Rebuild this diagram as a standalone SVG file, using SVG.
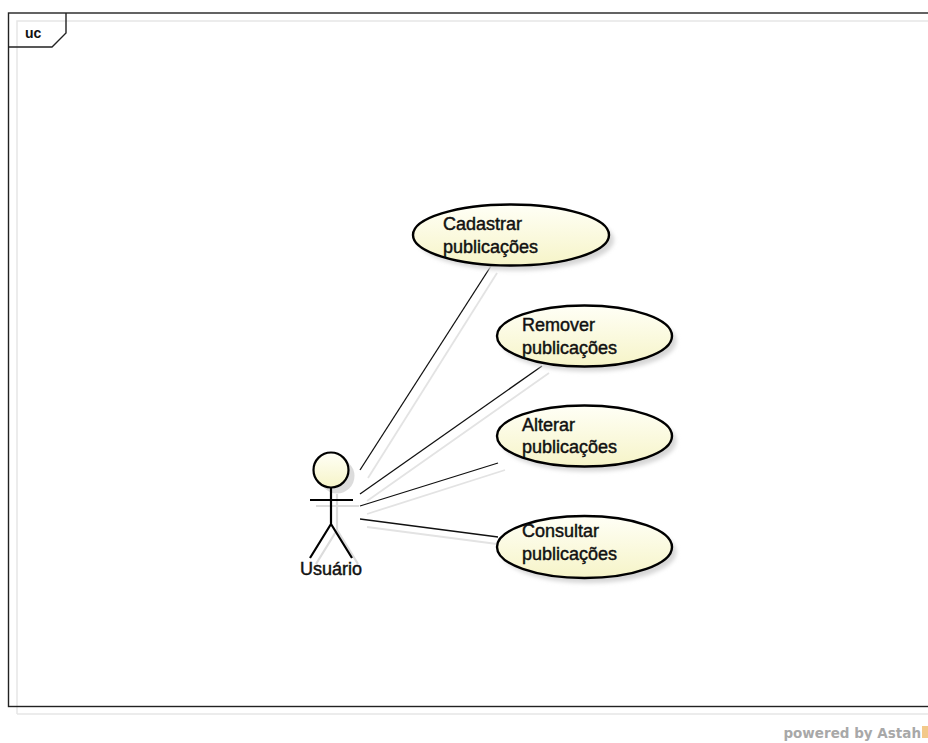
<svg xmlns="http://www.w3.org/2000/svg" width="928" height="743" viewBox="0 0 928 743">
<style>
.frame{fill:none;stroke:#222;stroke-width:1.4}
.fshadow{fill:none;stroke:#e6e6e6;stroke-width:1.5}
.uc{fill:url(#ucfill);stroke:#000;stroke-width:2.4}
.ucsh{fill:#d6d6d6;filter:url(#blur)}
.lbl{font-family:"Liberation Sans",Arial,sans-serif;font-size:18px;fill:#111;stroke:#111;stroke-width:0.45}
.conn{stroke:#111;stroke-width:1.3;fill:none}
.connsh{stroke:#e3e3e3;stroke-width:1.8;fill:none}
.act{stroke:#000;stroke-width:2.2;fill:none}
.actsh{stroke:#dcdcdc;stroke-width:2.2;fill:none}
</style>
<defs>
<linearGradient id="ucfill" x1="0" y1="0" x2="0" y2="1">
<stop offset="0" stop-color="#fffff6"/>
<stop offset="1" stop-color="#f6f4c8"/>
</linearGradient>
<filter id="blur" x="-20%" y="-20%" width="140%" height="140%"><feGaussianBlur stdDeviation="2"/></filter>
</defs>
<rect width="928" height="743" fill="#fff"/>
<g id="frame">
<path class="fshadow" d="M17 714 V21 H940 M17 714 H940"/>
<rect class="frame" x="8.5" y="13" width="940" height="693.5"/>
<path class="frame" d="M8.5 47 H52 L66 33 V13"/>
<text x="25" y="38" style="font-family:'Liberation Sans',Arial,sans-serif;font-size:14px;font-weight:bold;fill:#111">uc</text>
</g>
<g id="connectors">
<line class="connsh" x1="368" y1="478" x2="497" y2="273"/>
<line class="conn" x1="360" y1="470" x2="491" y2="266"/>
<line class="connsh" x1="367" y1="501" x2="549" y2="373"/>
<line class="conn" x1="360" y1="494" x2="542" y2="366"/>
<line class="connsh" x1="367" y1="514" x2="505" y2="470"/>
<line class="conn" x1="360" y1="506" x2="498" y2="463"/>
<line class="connsh" x1="367" y1="527" x2="497" y2="544"/>
<line class="conn" x1="360" y1="519" x2="498" y2="537"/>
</g>
<g id="actor">
<g transform="translate(6,6)">
<circle cx="331" cy="470" r="17.5" fill="#dcdcdc" stroke="none"/>
<path class="actsh" d="M331 488 V524 M310 500 H353 M331 524 L310 558 M331 524 L352 558"/>
</g>
<circle cx="331" cy="470" r="17.5" fill="url(#ucfill)" stroke="#000" stroke-width="2.2"/>
<path class="act" d="M331 488 V524 M310 500 H353 M331 524 L310 558 M331 524 L352 558"/>
<text class="lbl" x="331" y="575" text-anchor="middle">Usuário</text>
</g>
<g id="uc1">
<ellipse class="ucsh" cx="516" cy="240" rx="98" ry="30.5"/>
<ellipse class="uc" cx="511" cy="235" rx="98" ry="30.5"/>
<text class="lbl" x="443" y="230">Cadastrar</text>
<text class="lbl" x="443" y="253">publicações</text>
</g>
<g id="uc2">
<ellipse class="ucsh" cx="589" cy="341" rx="87.5" ry="30.5"/>
<ellipse class="uc" cx="584.5" cy="336" rx="87.5" ry="30.5"/>
<text class="lbl" x="522" y="331">Remover</text>
<text class="lbl" x="522" y="354">publicações</text>
</g>
<g id="uc3">
<ellipse class="ucsh" cx="589" cy="441" rx="87.5" ry="30.5"/>
<ellipse class="uc" cx="584.5" cy="436" rx="87.5" ry="30.5"/>
<text class="lbl" x="522" y="431">Alterar</text>
<text class="lbl" x="522" y="453">publicações</text>
</g>
<g id="uc4">
<ellipse class="ucsh" cx="589" cy="552" rx="87.5" ry="31"/>
<ellipse class="uc" cx="584.5" cy="547" rx="87.5" ry="31"/>
<text class="lbl" x="522" y="537">Consultar</text>
<text class="lbl" x="522" y="560">publicações</text>
</g>
<g id="footer">
<text x="921" y="738" text-anchor="end" style="font-family:'DejaVu Sans',Verdana,sans-serif;font-size:13.5px;font-weight:bold;fill:#a8a8a8">powered by Astah</text>
<rect x="922" y="726" width="6" height="12" fill="#f3c98a"/>
</g>
</svg>
